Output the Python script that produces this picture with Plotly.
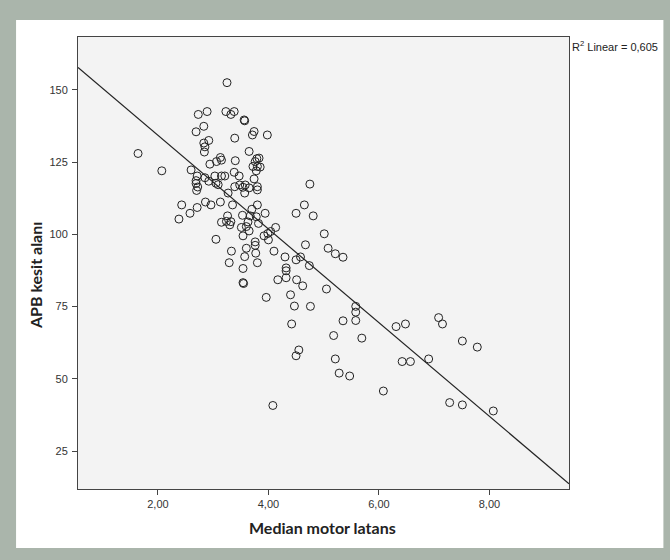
import plotly.graph_objects as go

# Median motor latans (x) and APB kesit alanı (y)
latency = [1.64, 2.07, 3.25, 2.73, 2.89, 3.23, 3.32, 3.38, 3.56, 3.57,
           2.83, 2.69, 3.74, 3.71, 3.98, 3.39, 2.92, 2.83, 2.85, 2.84,
           3.65, 3.13, 3.15, 3.06, 2.94, 3.40, 3.79, 3.83, 3.76, 3.80,
           3.72, 3.85, 3.78, 2.60, 3.38, 3.47, 2.71, 2.69, 2.85, 3.03,
           3.15, 3.21, 3.74, 2.92, 3.05, 3.09, 3.48, 3.58, 3.65, 2.69,
           2.72, 2.70, 3.39, 3.54, 3.80, 3.80, 3.27, 3.57, 4.75, 2.43,
           2.58, 2.71, 2.86, 2.96, 3.13, 3.35, 2.38, 3.80, 3.70, 3.94,
           3.53, 3.67, 3.78, 4.65, 4.50, 4.81, 3.26, 3.24, 3.32, 3.30,
           3.15, 3.63, 3.60, 3.51, 3.65, 3.54, 3.82, 3.92, 3.99, 4.04,
           4.13, 4.00, 3.05, 3.76, 3.76, 5.01, 4.67, 5.08, 5.21, 5.35,
           3.33, 3.60, 3.77, 3.57, 3.29, 3.80, 3.54, 4.10, 4.30, 4.50,
           4.58, 4.74, 4.32, 4.32, 4.32, 4.17, 4.51, 4.62, 3.54, 3.55,
           5.05, 3.96, 4.40, 4.47, 4.76, 4.42, 5.58, 5.58, 5.58, 5.35,
           5.69, 5.18, 6.31, 6.48, 7.08, 7.15, 7.51, 7.78, 6.42, 6.57,
           6.90, 4.55, 4.50, 5.21, 5.28, 5.47, 6.08, 4.08, 7.28, 7.51,
           8.07]
area = [128.0, 122.0, 152.5, 141.5, 142.5, 142.5, 141.5, 142.5, 139.6, 139.3,
        137.4, 135.5, 135.6, 134.4, 134.4, 133.3, 132.5, 131.6, 130.3, 128.5,
        128.7, 126.6, 125.7, 125.2, 124.3, 125.5, 126.2, 126.4, 125.2, 123.5,
        123.5, 123.3, 122.0, 122.3, 121.5, 120.2, 120.2, 118.6, 119.6, 120.2,
        120.2, 120.2, 119.2, 118.4, 117.7, 117.2, 117.1, 117.1, 116.1, 117.6,
        116.4, 115.2, 116.5, 116.3, 116.5, 115.4, 114.3, 114.3, 117.4, 110.2,
        107.3, 109.3, 111.2, 110.2, 111.2, 110.2, 105.3, 110.2, 108.7, 107.3,
        106.6, 106.4, 106.1, 110.2, 107.3, 106.4, 106.4, 104.5, 104.4, 103.3,
        104.2, 104.3, 102.7, 102.4, 101.2, 99.5, 103.8, 99.5, 100.3, 101.0,
        102.4, 98.1, 98.3, 97.4, 96.2, 100.2, 96.4, 95.2, 93.3, 92.1,
        94.2, 95.2, 93.5, 92.3, 90.2, 90.2, 88.2, 94.2, 92.2, 91.2,
        92.2, 89.2, 88.4, 87.4, 85.0, 84.3, 84.3, 82.2, 83.3, 83.0,
        81.1, 78.2, 79.1, 75.2, 75.1, 69.0, 75.1, 73.1, 70.2, 70.1,
        64.1, 65.0, 68.1, 69.0, 71.2, 69.0, 63.1, 61.0, 56.0, 56.0,
        56.9, 60.0, 58.0, 56.9, 52.0, 51.0, 45.8, 40.8, 41.8, 41.0,
        38.9]

# Linear fit line (as drawn in the chart)
fit_intercept = 166.7
fit_slope = -16.21
r2_label = "R<sup>2</sup> Linear = 0,605"

x_range = [0.553, 9.44]
y_range = [11.9, 168.3]
x_tickvals = [2, 4, 6, 8]
x_ticktext = ["2,00", "4,00", "6,00", "8,00"]
y_tickvals = [25, 50, 75, 100, 125, 150]
y_ticktext = ["25", "50", "75", "100", "125", "150"]

x_title = "Median motor latans"
y_title = "APB kesit alanı"

fit_x = x_range
fit_y = [fit_intercept + fit_slope * v for v in fit_x]

fig = go.Figure()
fig.add_trace(go.Scatter(
    x=latency, y=area, mode="markers",
    marker=dict(symbol="circle-open", size=8, color="#222222",
                line=dict(width=1, color="#222222")),
    showlegend=False, hoverinfo="x+y"))
fig.add_trace(go.Scatter(
    x=fit_x, y=fit_y, mode="lines",
    line=dict(color="#222222", width=1.2),
    showlegend=False, hoverinfo="skip"))

L, R, T, B = 78, 100.5, 37, 71
W, H = 670, 560
pw, ph = W - L - R, H - T - B


def px_to_paper_x(px):
    return (px - L) / pw


def px_to_paper_y(py):
    return (H - B - py) / ph


fig.update_layout(
    width=W, height=H,
    margin=dict(l=L, r=R, t=T, b=B, pad=0),
    paper_bgcolor="#aab5ab",
    plot_bgcolor="#f3f3f3",
    font=dict(family="Liberation Sans, Arial, sans-serif", size=11, color="#333333"),
    shapes=[
        dict(type="rect", xref="paper", yref="paper", layer="below",
             x0=px_to_paper_x(16), x1=px_to_paper_x(664),
             y0=px_to_paper_y(548), y1=px_to_paper_y(20),
             fillcolor="#ffffff", line=dict(width=0)),
        dict(type="rect", xref="paper", yref="paper", layer="below",
             x0=0, x1=1, y0=0, y1=1,
             fillcolor="#f3f3f3", line=dict(width=0)),
    ],
    xaxis=dict(range=x_range, tickvals=x_tickvals, ticktext=x_ticktext,
               showgrid=False, zeroline=False, showline=True, mirror=True,
               linecolor="#444444", linewidth=1, ticks="outside", ticklen=5,
               tickcolor="#444444", tickfont=dict(size=11, color="#333333")),
    yaxis=dict(range=y_range, tickvals=y_tickvals, ticktext=y_ticktext,
               showgrid=False, zeroline=False, showline=True, mirror=True,
               linecolor="#444444", linewidth=1, ticks="outside", ticklen=5,
               tickcolor="#444444", tickfont=dict(size=11, color="#333333"),
               ticklabelstandoff=2),
    annotations=[
        dict(text=r2_label, xref="paper", yref="paper",
             x=px_to_paper_x(571), y=px_to_paper_y(46),
             xanchor="left", yanchor="middle", showarrow=False,
             font=dict(size=11, color="#222222")),
        dict(text="<b>" + y_title + "</b>", xref="paper", yref="paper",
             x=px_to_paper_x(35), y=px_to_paper_y(276), textangle=-90,
             xanchor="center", yanchor="middle", showarrow=False,
             font=dict(family="Lato, Open Sans, sans-serif", size=16, color="#222222")),
        dict(text="<b>" + x_title + "</b>", xref="paper", yref="paper",
             x=px_to_paper_x(323), y=px_to_paper_y(527),
             xanchor="center", yanchor="middle", showarrow=False,
             font=dict(family="Lato, Open Sans, sans-serif", size=16, color="#222222")),
    ],
)

fig.write_html("out.html",
               config={"displayModeBar": False},
               post_script="document.body.style.margin='0';document.body.style.overflow='hidden';")
